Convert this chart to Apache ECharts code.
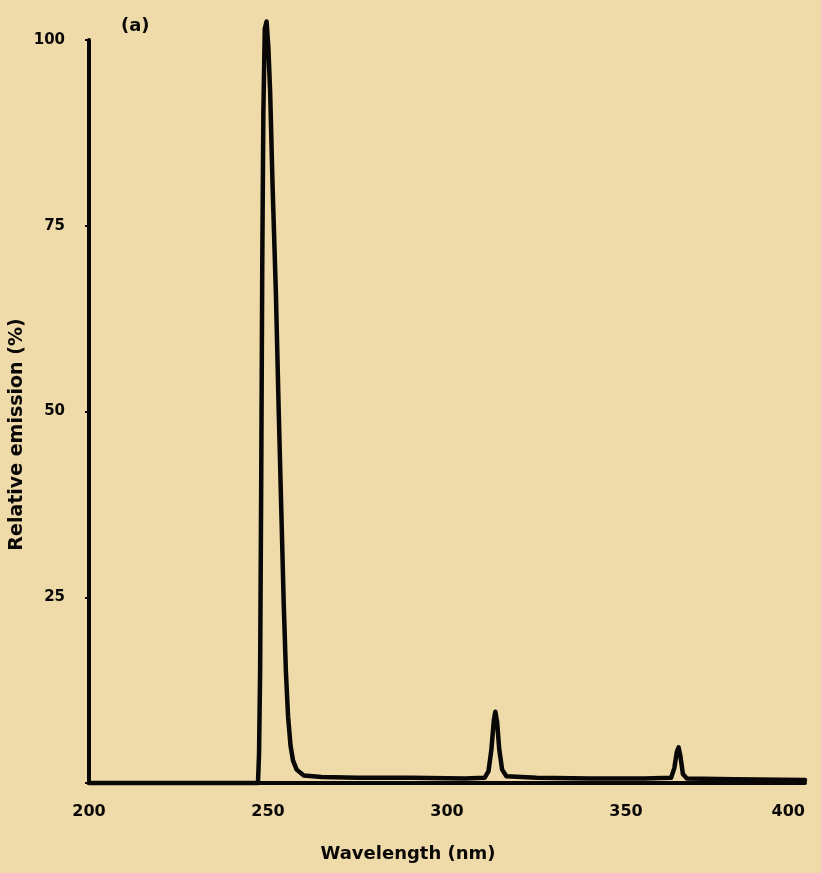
<!DOCTYPE html>
<html lang="en">
<head>
	<meta charset="UTF-8">
	<title>Relative emission</title>
	<script src="https://cdn.jsdelivr.net/npm/echarts@6/dist/echarts.min.js"></script>
	<style>
		html,body{margin:0;padding:0;background:#efdaa9;}
		#chart{width:821px;height:873px;}
	</style>
</head>
<body>
<div id="chart"></div>
<script>
	// wavelength (nm) / relative emission (%)
	var wavelength = [200, 247.2, 247.5, 247.8, 248.1, 248.4, 248.7, 249.1, 249.6, 250.1, 250.6, 251.3, 252.2, 253, 253.7, 254.4, 255, 255.6, 256.3, 257, 258, 260, 265, 275, 290, 305, 310.5, 311.6, 312.4, 313.1, 313.5, 314, 314.6, 315.4, 316.6, 325, 340, 355, 362.6, 363.5, 364.2, 364.7, 365.2, 365.9, 367, 380, 400];
	var emission   = [0,   0,     4,     15,    40,    70,    90,    101.5, 102.5, 99,    93,    80,    66,    50,  37,    24,    15,  9,     5,     3,   1.8, 1,   0.8, 0.7, 0.7, 0.6, 0.7,   1.6,   4.5,   8.5,   9.6,   8.2, 4.5,   1.8,   0.9,   0.7, 0.6, 0.6, 0.7,   2,     4.2,   4.8,   3.6,   1.2,   0.6, 0.5, 0.4];
	var xTicks = [200, 250, 300, 350, 400];
	var yTicks = [0, 25, 50, 75, 100];

	var seriesData = [];
	for (var i = 0; i < wavelength.length; i++) {
		seriesData.push([wavelength[i], emission[i]]);
	}

	var font = '"DejaVu Sans", sans-serif';
	var ink = '#0a0806';

	var myChart = echarts.init(document.getElementById('chart'));
	var option = {
		backgroundColor: '#efdaa9',
		animation: false,
		title: {
			text: '(a)',
			left: 116,
			top: 12,
			textStyle: {color: ink, fontFamily: font, fontWeight: 'bold', fontSize: 18}
		},
		grid: {left: 89, right: 16, top: 40, bottom: 90, outerBoundsMode: 'none'},
		xAxis: {
			type: 'value',
			min: xTicks[0],
			max: xTicks[xTicks.length - 1],
			interval: 50,
			name: 'Wavelength (nm)',
			nameLocation: 'middle',
			nameGap: 62,
			nameTextStyle: {color: ink, fontFamily: font, fontWeight: 'bold', fontSize: 18, padding: [0, 78, 0, 0]},
			axisLine: {lineStyle: {color: ink, width: 4}},
			axisTick: {show: false},
			splitLine: {show: false},
			axisLabel: {
				color: ink, fontFamily: font, fontWeight: 'bold', fontSize: 16, margin: 21,
				alignMaxLabel: 'right'
			}
		},
		yAxis: {
			type: 'value',
			min: yTicks[0],
			max: yTicks[yTicks.length - 1],
			interval: 25,
			name: 'Relative emission (%)',
			nameLocation: 'middle',
			nameRotate: 90,
			nameGap: 62,
			nameMoveOverlap: false,
			nameTextStyle: {color: ink, fontFamily: font, fontWeight: 'bold', fontSize: 19, padding: [0, 46, 0, 0]},
			axisLine: {show: true, lineStyle: {color: ink, width: 4}},
			axisTick: {show: true, length: 4, lineStyle: {color: ink, width: 2}},
			splitLine: {show: false},
			axisLabel: {
				color: ink, fontFamily: font, fontWeight: 'bold', fontSize: 15, margin: 24,
				formatter: function (v) { return v === 0 ? '' : v; }
			}
		},
		series: [
			{
				type: 'line',
				data: seriesData,
				clip: false,
				symbol: 'none',
				lineStyle: {color: ink, width: 4.5, join: 'round', cap: 'round'}
			}
		]
	};
	myChart.setOption(option);
</script>
</body>
</html>
